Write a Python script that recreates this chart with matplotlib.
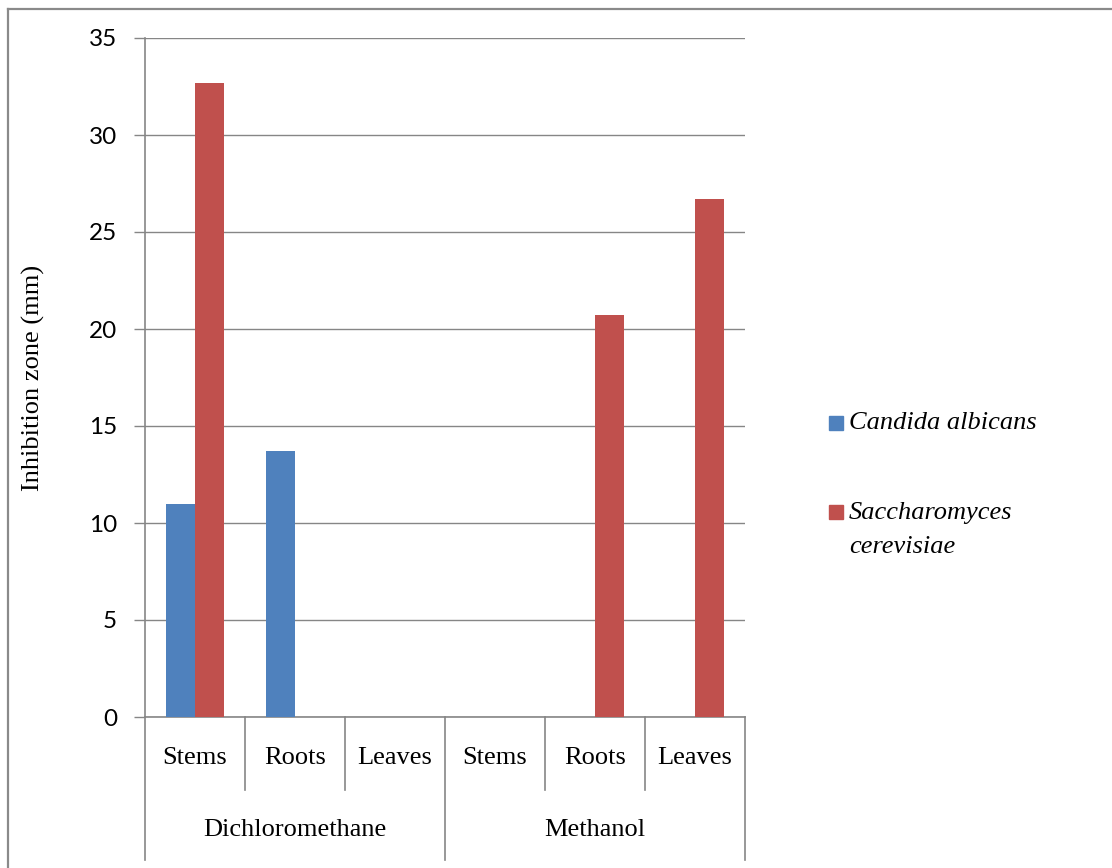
import matplotlib
matplotlib.use("Agg")
from matplotlib import pyplot as plt
from matplotlib.patches import Rectangle
from matplotlib.lines import Line2D
import numpy as np

# data
parts = ['Stems', 'Roots', 'Leaves', 'Stems', 'Roots', 'Leaves']
solvents = ['Dichloromethane', 'Methanol']
candida = [11.0, 13.7, 0, 0, 0, 0]
saccharomyces = [32.7, 0, 0, 0, 20.7, 26.7]
yticks = [0, 5, 10, 15, 20, 25, 30, 35]

blue = '#4F81BD'
red = '#C0504D'
grey = '#868686'
serif = 'Liberation Serif'
fs = 19

W, H = 1112, 868
fig = plt.figure(figsize=(W / 100, H / 100), dpi=100)
ax = fig.add_axes([145 / W, 1 - 717 / H, 600 / W, 679 / H])

x = np.arange(len(parts))
bw = 0.29
ax.bar(x - bw / 2, candida, width=bw, color=blue, zorder=3)
ax.bar(x + bw / 2, saccharomyces, width=bw, color=red, zorder=3)

ax.set_xlim(-0.5, len(parts) - 0.5)
ax.set_ylim(0, 35)
ax.set_yticks(yticks)
ax.set_yticklabels([str(t) for t in yticks], fontfamily='Lato', fontsize=17.5)
ax.tick_params(axis='y', length=8, width=1, color=grey, pad=12)
ax.set_xticks([])
ax.grid(axis='y', color=grey, linewidth=1, zorder=0)
for s in ['top', 'right']:
    ax.spines[s].set_visible(False)
for s in ['left', 'bottom']:
    ax.spines[s].set_color(grey)
    ax.spines[s].set_linewidth(1.2)

# two level category axis
tr = ax.get_xaxis_transform()
ph = 679.0
for i, p in enumerate(parts):
    ax.text(i, -(758 - 717) / ph, p, transform=tr, ha='center', va='center',
            fontfamily=serif, fontsize=fs)
for b in np.arange(-0.5, len(parts), 1.0):
    low = -(860 - 717) / ph if (b + 0.5) % 3 == 0 else -(790 - 717) / ph
    ax.add_line(Line2D([b, b], [0, low], transform=tr, color=grey,
                       linewidth=1.2, clip_on=False))
for g, name in enumerate(solvents):
    ax.text(g * 3 + 1, -(830 - 717) / ph, name, transform=tr, ha='center',
            va='center', fontfamily=serif, fontsize=fs)

fig.text(33 / W, 1 - 377.5 / H, 'Inhibition zone (mm)', rotation=90,
         ha='center', va='center', fontfamily=serif, fontsize=fs)

# legend drawn by hand so the marker sits on the first line
fig.patches.append(Rectangle((829 / W, 1 - 430 / H), 14 / W, 14 / H,
                             transform=fig.transFigure, color=blue))
fig.text(849 / W, 1 - 423 / H, 'Candida albicans', ha='left', va='center',
         fontfamily=serif, fontstyle='italic', fontsize=fs)
fig.patches.append(Rectangle((829 / W, 1 - 519 / H), 14 / W, 14 / H,
                             transform=fig.transFigure, color=red))
fig.text(849 / W, 1 - 513 / H, 'Saccharomyces', ha='left', va='center',
         fontfamily=serif, fontstyle='italic', fontsize=fs)
fig.text(849 / W, 1 - 547 / H, 'cerevisiae', ha='left', va='center',
         fontfamily=serif, fontstyle='italic', fontsize=fs)

# outer chart border (left and top only visible)
fig.add_artist(Line2D([8 / W, 8 / W], [0, 1 - 9 / H], transform=fig.transFigure,
                      color='#8a8a8a', linewidth=1.6))
fig.add_artist(Line2D([8 / W, 1], [1 - 9 / H, 1 - 9 / H], transform=fig.transFigure,
                      color='#8a8a8a', linewidth=1.6))

fig.savefig('out.png', dpi=100, facecolor='white')
